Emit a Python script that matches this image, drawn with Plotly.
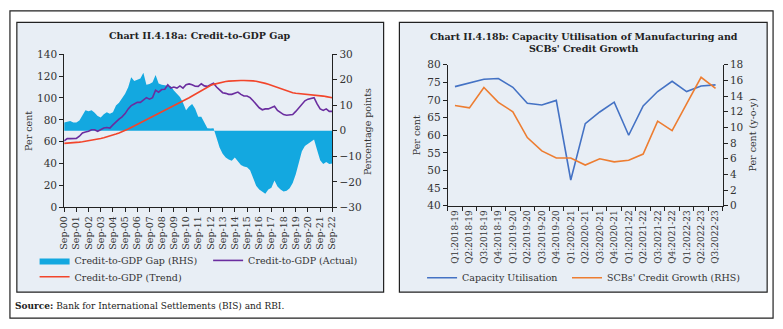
import pandas as pd
import plotly.graph_objects as go

# ---------------- Data: Chart a (quarterly, Sep-00 .. Sep-22) ----------------
quarters = pd.date_range("2000-09-30", periods=89, freq="QE-DEC")

gap_rhs = [3.2, 3.6, 3.8, 3.2, 3.2, 4.0, 6.0, 8.0, 7.6, 8.0,
           7.1, 5.8, 5.2, 6.5, 7.3, 6.7, 7.3, 9.9, 11.0, 12.6,
           14.5, 17.0, 21.0, 19.5, 20.0, 20.5, 22.7, 18.0, 18.3, 19.0,
           21.8, 18.5, 18.0, 17.7, 17.7, 17.4, 15.8, 14.5, 13.2, 11.0,
           8.0, 9.5, 10.5, 8.6, 5.5, 5.5, 3.2, 1.0, 0.9, 1.0,
           -2.7, -6.5, -9.0, -10.5, -11.2, -11.7, -10.5, -11.8, -13.4, -14.0,
           -14.3, -15.5, -18.5, -21.5, -23.0, -24.0, -24.7, -23.0, -22.3, -19.5,
           -21.8, -23.0, -23.8, -23.5, -22.5, -20.5, -17.0, -12.5, -8.0, -6.0,
           -5.0, -4.3, -3.4, -7.5, -11.5, -13.0, -12.2, -13.0, -12.8]

actual = [60.7, 62.8, 62.8, 62.8, 63.0, 65.0, 68.0, 68.9, 69.5, 71.0,
          71.0, 69.5, 71.0, 72.5, 73.0, 72.5, 75.4, 78.3, 80.7, 82.7,
          85.7, 90.0, 93.0, 94.5, 96.0, 96.0, 98.3, 100.3, 98.9, 100.3,
          107.0, 105.3, 107.7, 108.0, 112.0, 109.0, 110.0, 109.0, 111.0, 109.0,
          112.0, 112.8, 112.0, 110.7, 110.6, 113.0, 111.0, 110.6, 112.0, 113.5,
          110.0, 107.7, 104.8, 104.2, 103.3, 103.3, 104.2, 105.4, 103.3, 101.8,
          101.8, 100.3, 97.4, 94.5, 91.0, 89.2, 90.0, 90.0, 91.0, 92.4,
          88.6, 86.5, 84.8, 84.2, 84.2, 84.8, 87.7, 90.7, 94.5, 97.4,
          98.9, 99.4, 100.3, 94.5, 90.0, 88.6, 90.0, 87.7, 87.7]

trend = [58.5, 58.6, 58.8, 59.0, 59.3, 59.6, 60.0, 60.4, 60.8, 61.3,
         61.8, 62.4, 63.0, 63.6, 64.3, 65.0, 66.0, 67.0, 68.0, 69.0,
         70.2, 71.6, 73.0, 74.4, 75.8, 77.2, 78.6, 80.0, 81.4, 82.8,
         84.2, 85.6, 87.0, 88.4, 89.8, 91.2, 92.6, 94.0, 95.5, 97.0,
         98.6, 100.2, 101.8, 103.4, 105.0, 106.8, 108.4, 109.9, 111.3, 112.4,
         113.2, 113.9, 114.5, 115.0, 115.4, 115.7, 115.9, 116.0, 116.0, 116.0,
         116.0, 115.9, 115.6, 115.2, 114.7, 114.0, 113.3, 112.5, 111.5, 110.6,
         109.6, 108.5, 107.5, 106.5, 105.5, 104.8, 104.3, 104.0, 103.8, 103.6,
         103.5, 103.3, 103.1, 102.7, 102.2, 101.7, 101.2, 100.7, 100.2]

# ---------------- Data: Chart b ----------------
qlabels = ["Q1:2018-19", "Q2:2018-19", "Q3:2018-19", "Q4:2018-19",
           "Q1:2019-20", "Q2:2019-20", "Q3:2019-20", "Q4:2019-20",
           "Q1:2020-21", "Q2:2020-21", "Q3:2020-21", "Q4:2020-21",
           "Q1:2021-22", "Q2:2021-22", "Q3:2021-22", "Q4:2021-22",
           "Q1:2022-23", "Q2:2022-23", "Q3:2022-23"]
capacity = [73.8, 74.9, 75.9, 76.1, 73.6, 69.1, 68.6, 69.9, 47.3, 63.3,
            66.6, 69.4, 60.0, 68.3, 72.4, 75.3, 72.4, 74.0, 74.3]
credit_growth = [12.8, 12.5, 15.1, 13.2, 12.0, 8.7, 7.0, 6.1, 6.1, 5.2,
                 6.0, 5.6, 5.8, 6.6, 10.8, 9.6, 13.0, 16.4, 15.0]

W, H = 783, 329
FONT = "DejaVu Serif"
BG = "#E8EEF5"
AX = "#222222"
TXT = "#333333"

def px(x):
    return x / W

def py(y):
    return 1 - y / H

fig = go.Figure()

# Gap (RHS) on the base axis "y" (drawn on right side), lines on overlaying "y2" (left side)
fig.add_trace(go.Scatter(x=quarters, y=gap_rhs, yaxis="y", xaxis="x",
                         mode="lines", fill="tozeroy", line=dict(width=0, color="#13A8E0"),
                         fillcolor="#13A8E0", name="Credit-to-GDP Gap (RHS)", legend="legend"))
fig.add_trace(go.Scatter(x=quarters, y=actual, xaxis="x", yaxis="y2", mode="lines",
                         line=dict(color="#6A2D9F", width=1.6),
                         name="Credit-to-GDP (Actual)", legend="legend2"))
fig.add_trace(go.Scatter(x=quarters, y=trend, xaxis="x", yaxis="y2", mode="lines",
                         line=dict(color="#F2452B", width=1.6),
                         name="Credit-to-GDP (Trend)", legend="legend3"))

fig.add_trace(go.Scatter(x=qlabels, y=capacity, xaxis="x3", yaxis="y3", mode="lines",
                         line=dict(color="#4472C4", width=1.6),
                         name="Capacity Utilisation", legend="legend4"))
fig.add_trace(go.Scatter(x=qlabels, y=credit_growth, xaxis="x3", yaxis="y4", mode="lines",
                         line=dict(color="#ED7D31", width=1.6),
                         name="SCBs' Credit Growth (RHS)", legend="legend5"))

tickf = dict(family=FONT, size=10.5, color=TXT)
axcommon = dict(showgrid=False, zeroline=False, showline=True, linecolor=AX, linewidth=1,
                ticks="outside", ticklen=4, tickcolor=AX, tickfont=tickf)

sep_ticks = list(quarters[::4])
sep_text = [d.strftime("Sep-%y") for d in quarters[::4]]

y_dom_a = [py(209), py(50)]
y_dom_b = [py(207.3), py(61)]


def leg(sym_x, center_y):
    return dict(x=px(sym_x - 10), y=py(center_y - 12), xanchor="left", yanchor="top",
                orientation="h", bgcolor="rgba(0,0,0,0)",
                font=dict(family=FONT, size=9.5, color=TXT))


fig.update_layout(
    width=W, height=H,
    margin=dict(l=0, r=0, t=0, b=0),
    paper_bgcolor="white",
    plot_bgcolor="rgba(0,0,0,0)",
    font=dict(family=FONT, color=TXT),
    xaxis=dict(domain=[px(59), px(331)], anchor="y", range=[quarters[0], quarters[-1]],
               tickvals=sep_ticks, ticktext=sep_text, tickangle=-90,
               **{**axcommon, "tickfont": dict(family=FONT, size=9.5, color=TXT)}),
    yaxis=dict(domain=y_dom_a, anchor="x", side="right", range=[-30, 30], dtick=10, **axcommon),
    yaxis2=dict(overlaying="y", side="left", anchor="x", range=[0, 140], dtick=20, **axcommon),
    xaxis3=dict(domain=[px(448), px(727)], anchor="y3", type="category", tickangle=-90,
                tickson="boundaries", range=[-0.5, 18.5],
                **{**axcommon, "tickfont": dict(family=FONT, size=9, color=TXT)}),
    yaxis3=dict(domain=y_dom_b, anchor="x3", range=[40, 80], dtick=5, **axcommon),
    yaxis4=dict(overlaying="y3", side="right", anchor="x3", range=[0, 18], dtick=2, **axcommon),
    legend=leg(39, 261),
    legend2=leg(215, 261),
    legend3=leg(39, 278),
    legend4=leg(432, 279),
    legend5=leg(579, 279),
    showlegend=True,
)

# Panel backgrounds and borders
shapes = [
    dict(type="rect", xref="paper", yref="paper", x0=px(4), x1=px(778), y0=py(324), y1=py(5),
         line=dict(color="#222222", width=1.2), fillcolor="white", layer="below"),
    dict(type="rect", xref="paper", yref="paper", x0=px(11), x1=px(383), y0=py(297), y1=py(17),
         line=dict(color="#222222", width=1.2), fillcolor=BG, layer="below"),
    dict(type="rect", xref="paper", yref="paper", x0=px(399), x1=px(772), y0=py(297), y1=py(17),
         line=dict(color="#222222", width=1.2), fillcolor=BG, layer="below"),
]
fig.update_layout(shapes=shapes)


def note(text, x, y, size=9.5, angle=0, xanchor="center", color=TXT):
    return dict(text=text, x=px(x), y=py(y), xref="paper", yref="paper", showarrow=False,
                xanchor=xanchor, yanchor="middle", textangle=angle,
                font=dict(family=FONT, size=size, color=color))


ann = [
    note("<b>Chart II.4.18a: Credit-to-GDP Gap</b>", 197, 31, color="#222222"),
    note("<b>Chart II.4.18b: Capacity Utilisation of Manufacturing and<br>SCBs' Credit Growth</b>",
         586, 38, color="#222222"),
    note("Per cent", 23, 130, angle=-90),
    note("Percentage points", 366, 130, angle=-90),
    note("Per cent", 416, 134, angle=-90),
    note("Per cent (y-o-y)", 757, 134, angle=-90),
    note("<b>Source:</b> Bank for International Settlements (BIS) and RBI.", 7, 311,
         size=9, xanchor="left", color="#222222"),
]
fig.update_layout(annotations=ann)

fig.write_html("out.html")
